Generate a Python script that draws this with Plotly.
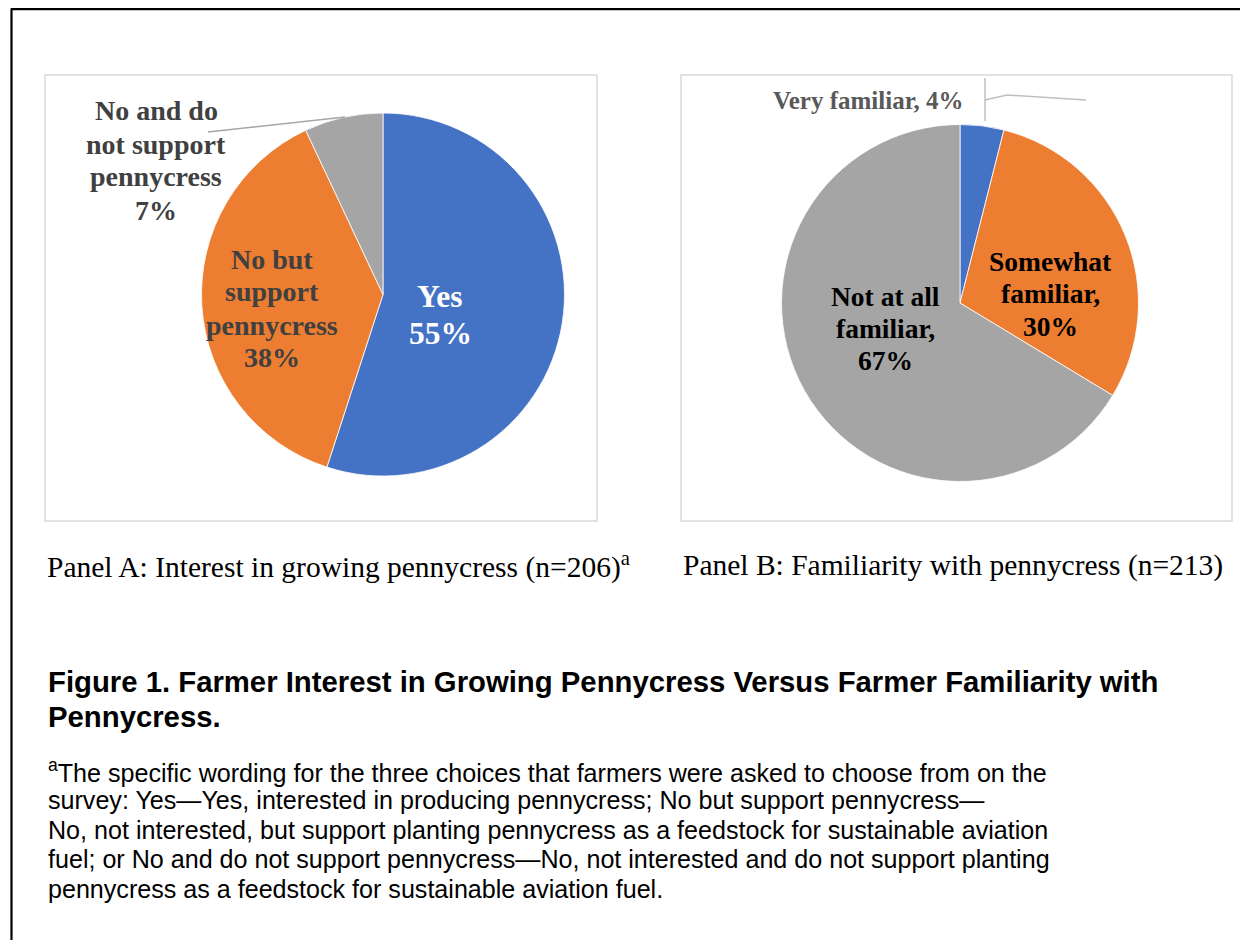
import plotly.graph_objects as go

# ---------------- data ----------------
panel_a_labels = ["Yes", "No but support pennycress", "No and do not support pennycress"]
panel_a_values = [55, 38, 7]
panel_a_lines = [["Yes"], ["No but", "support", "pennycress"], ["No and do", "not support", "pennycress"]]

panel_b_labels = ["Very familiar", "Somewhat familiar", "Not at all familiar"]
panel_b_values = [4, 30, 67]
panel_b_lines = [["Very familiar,"], ["Somewhat", "familiar,"], ["Not at all", "familiar,"]]

slice_colors = ["#4472C4", "#ED7D31", "#A5A5A5"]

caption_a = "Panel A: Interest in growing pennycress (n=206)<sup>a</sup>"
caption_b = "Panel B: Familiarity with pennycress (n=213)"
title_lines = ["Figure 1. Farmer Interest in Growing Pennycress Versus Farmer Familiarity with",
               "Pennycress."]
footnote_lines = [
    "<sup>a</sup>The specific wording for the three choices that farmers were asked to choose from on the",
    "survey: Yes\u2014Yes, interested in producing pennycress; No but support pennycress\u2014",
    "No, not interested, but support planting pennycress as a feedstock for sustainable aviation",
    "fuel; or No and do not support pennycress\u2014No, not interested and do not support planting",
    "pennycress as a feedstock for sustainable aviation fuel.",
]

# ---------------- layout helpers ----------------
OFF = 8  # page body margin offset
W, H = 1248 - 2 * OFF, 948 - 2 * OFF  # figure fits the window without scrollbars
SERIF = "Times New Roman, Liberation Serif, serif"
SANS = "Arial, Liberation Sans, sans-serif"


def px(x):
    return (x - OFF) / W


def py(y):
    return 1 - (y - OFF) / H


def dom(cx, cy, r):
    return dict(x=[px(cx - r), px(cx + r)], y=[py(cy + r), py(cy - r)])


fig = go.Figure()

fig.add_trace(go.Pie(
    labels=panel_a_labels, values=panel_a_values, sort=False, direction="clockwise",
    rotation=0, marker=dict(colors=slice_colors, line=dict(color="white", width=0.8)),
    textinfo="none", hoverinfo="label+percent", domain=dom(383, 294.5, 181.5),
    showlegend=False,
))
fig.add_trace(go.Pie(
    labels=panel_b_labels, values=panel_b_values, sort=False, direction="clockwise",
    rotation=0, marker=dict(colors=slice_colors, line=dict(color="white", width=0.8)),
    textinfo="none", hoverinfo="label+percent", domain=dom(960, 303, 178.5),
    showlegend=False,
))

annotations = []


def ann(text, x, y, size, color, family=SERIF, xanchor="center", yanchor="middle", align="center"):
    annotations.append(dict(
        text=text, x=px(x), y=py(y), xref="paper", yref="paper", showarrow=False,
        xanchor=xanchor, yanchor=yanchor, align=align,
        font=dict(family=family, size=size, color=color),
    ))


def label_block(lines, value, cx, y0, step, size, color):
    allines = list(lines) + [f"{value}%"]
    for i, t in enumerate(allines):
        ann(f"<b>{t}</b>", cx, y0 + i * step, size, color)


# Panel A data labels
label_block(panel_a_lines[0], panel_a_values[0], 440, 296, 37, 31.5, "white")
label_block(panel_a_lines[1], panel_a_values[1], 272, 259, 33, 28, "#404040")
label_block(panel_a_lines[2], panel_a_values[2], 156, 111, 33, 28, "#404040")

# Panel B data labels
ann(f"<b>{panel_b_lines[0][0]} {panel_b_values[0]}%</b>", 868, 100, 25, "#595959")
label_block(panel_b_lines[1], panel_b_values[1], 1050, 261, 32.5, 27.5, "black")
label_block(panel_b_lines[2], panel_b_values[2], 885, 296, 32.5, 27.5, "black")

# Captions
ann(caption_a, 45, 565, 29.5, "black", xanchor="left", align="left")
ann(caption_b, 681, 565, 29.5, "black", xanchor="left", align="left")

# Figure title
for i, line in enumerate(title_lines):
    ann(f"<b>{line}</b>", 46, 681 + i * 35, 29.3, "black", family=SANS, xanchor="left", align="left")

# Footnote
for i, line in enumerate(footnote_lines):
    ann(line, 46, 771 + i * 29.4, 25.1, "black", family=SANS, xanchor="left", align="left")

shapes = [
    # outer border (top and left edges; the rest lies outside the picture)
    dict(type="line", xref="paper", yref="paper", x0=px(11), y0=py(9.2), x1=1.0, y1=py(9.2),
         line=dict(color="black", width=2.2)),
    dict(type="line", xref="paper", yref="paper", x0=px(11.5), y0=py(8.5), x1=px(11.5), y1=0.0,
         line=dict(color="black", width=2.2)),
    # panel boxes
    dict(type="rect", xref="paper", yref="paper", x0=px(45), y0=py(521), x1=px(597), y1=py(75),
         line=dict(color="#D9D9D9", width=1.5)),
    dict(type="rect", xref="paper", yref="paper", x0=px(681), y0=py(521), x1=px(1232), y1=py(75),
         line=dict(color="#D9D9D9", width=1.5)),
    # leader line panel A
    dict(type="line", xref="paper", yref="paper", x0=px(345), y0=py(117), x1=px(208), y1=py(132),
         line=dict(color="#A6A6A6", width=1.5)),
    # leader lines panel B
    dict(type="line", xref="paper", yref="paper", x0=px(985), y0=py(78), x1=px(985), y1=py(121),
         line=dict(color="#BFBFBF", width=1.5)),
    dict(type="path", xref="paper", yref="paper",
         path=f"M {px(985)},{py(100)} L {px(1007)},{py(95)} L {px(1086)},{py(100)}",
         line=dict(color="#BFBFBF", width=1.5)),
]

fig.update_layout(
    width=W, height=H, margin=dict(l=0, r=0, t=0, b=0),
    paper_bgcolor="white", plot_bgcolor="white",
    annotations=annotations, shapes=shapes, showlegend=False,
)

fig.write_html("out.html")
